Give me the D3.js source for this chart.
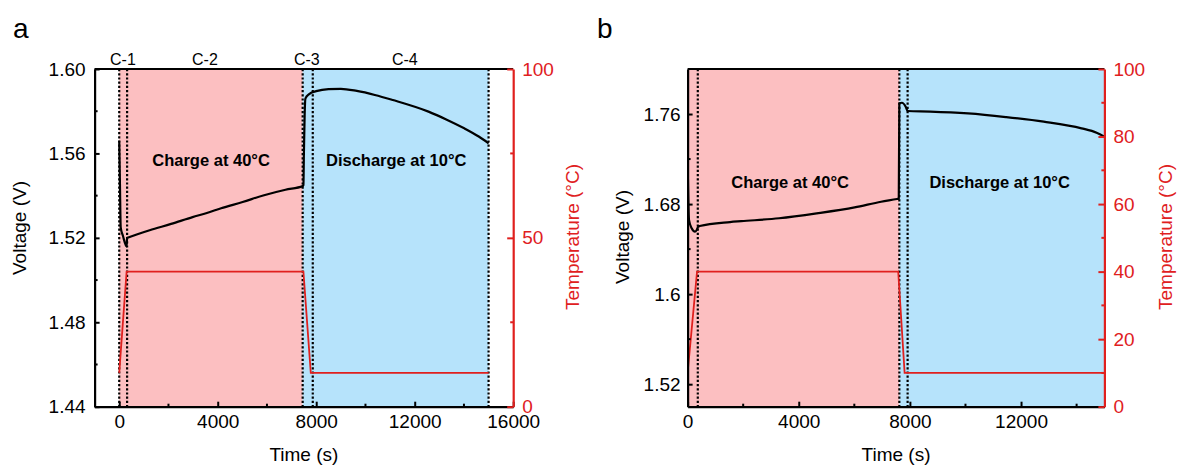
<!DOCTYPE html>
<html>
<head>
<meta charset="utf-8">
<script src="https://cdn.jsdelivr.net/npm/d3@7"></script>
<style>
  body { margin: 0; background: #fff; }
  svg { font-family: Arial, "Liberation Sans", sans-serif; }
</style>
</head>
<body>
<svg id="chart" width="1183" height="469"></svg>
<script>
// ---- panel a data ----
const timeA = [0, 30, 60, 150, 300, 320, 366, 1236, 2107, 2978, 3559, 4138, 5012, 5882, 6752, 7450, 7480, 7500, 7530, 7560, 7700, 8000, 8500, 9000, 9650, 10382, 11109, 12560, 13300, 14012, 14600, 15000];
const voltA = [1.566, 1.545, 1.525, 1.521, 1.516, 1.520, 1.5202, 1.5236, 1.5266, 1.5298, 1.5318, 1.5340, 1.5370, 1.5402, 1.5428, 1.5445, 1.5450, 1.560, 1.578, 1.586, 1.588, 1.5895, 1.5905, 1.5906, 1.5896, 1.5877, 1.5853, 1.5798, 1.5760, 1.5719, 1.5680, 1.5648];
const tempTimeA = [0, 300, 7480, 7780, 15000];
const tempA = [10, 40, 40, 10, 10];
const dividersA = [0, 320, 7450, 7860, 15000];
const phaseStartA = [0, 7450];
const phaseEndA = [7450, 15000];
const stepNames = ['C-1', 'C-2', 'C-3', 'C-4'];
const stepTimes = [150, 3480, 7620, 11600];

// ---- panel b data ----
const timeB = [0, 50, 147, 266, 327, 385, 436, 1525, 1932, 3293, 4651, 6011, 6964, 7536, 7600, 7620, 7712, 7849, 7918, 8734, 10094, 11453, 12816, 14176, 14719, 15000];
const voltB = [1.72, 1.666, 1.6585, 1.6555, 1.657, 1.660, 1.6605, 1.6640, 1.6648, 1.6674, 1.6718, 1.6771, 1.6821, 1.6845, 1.6848, 1.7695, 1.770, 1.7665, 1.7627, 1.7622, 1.7605, 1.7573, 1.7532, 1.7473, 1.7434, 1.7399];
const tempTimeB = [0, 340, 7580, 7810, 15000];
const tempB = [10, 40, 40, 10, 10];
const dividersB = [367, 7620, 7918];
const phaseStartB = [0, 7620];
const phaseEndB = [7620, 15000];

// ---- axis ticks ----
const xTicksA = [0, 4000, 8000, 12000, 16000];
const xMinorA = [2000, 6000, 10000, 14000];
const vTicksA = [1.44, 1.48, 1.52, 1.56, 1.60];
const vMinorA = [1.46, 1.50, 1.54, 1.58];
const tTicksA = [0, 50, 100];
const tMinorA = [25, 75];

const xTicksB = [0, 4000, 8000, 12000];
const xMinorB = [2000, 6000, 10000, 14000];
const vTicksB = [1.52, 1.6, 1.68, 1.76];
const vMinorB = [1.56, 1.64, 1.72];
const tTicksB = [0, 20, 40, 60, 80, 100];
const tMinorB = [10, 30, 50, 70, 90];

const RED = '#e0201e';
const PINK = '#fcbfc1';
const BLUE = '#b6e3fb';
const phaseColors = [PINK, BLUE];
const FONT = 'Arial, "Liberation Sans", sans-serif';

const svg = d3.select('#chart');

const drawPanel = cfg => {
    const x = d3.scaleLinear().domain(cfg.xDomain).range([cfg.left, cfg.right]);
    const yV = d3.scaleLinear().domain(cfg.vDomain).range([cfg.bottom, cfg.top]);
    const yT = d3.scaleLinear().domain([0, 100]).range([cfg.bottom, cfg.top]);

    const g = svg.append('g');
    const clipId = 'clip-' + cfg.id;
    svg.append('clipPath').attr('id', clipId)
        .append('rect')
        .attr('x', cfg.left).attr('y', cfg.top)
        .attr('width', cfg.right - cfg.left).attr('height', cfg.bottom - cfg.top);

    const plot = g.append('g').attr('clip-path', `url(#${clipId})`);

    // shaded phases
    plot.selectAll('rect.phase')
        .data(cfg.phaseStart.map((s, i) => ({ s, e: cfg.phaseEnd[i], i })))
        .join('rect')
        .attr('class', 'phase')
        .attr('x', d => x(d.s))
        .attr('y', cfg.top)
        .attr('width', d => x(d.e) - x(d.s))
        .attr('height', cfg.bottom - cfg.top)
        .attr('fill', d => phaseColors[d.i]);

    // dotted dividers
    plot.selectAll('line.div')
        .data(cfg.dividers)
        .join('line')
        .attr('x1', d => x(d)).attr('x2', d => x(d))
        .attr('y1', cfg.top).attr('y2', cfg.bottom)
        .attr('stroke', '#000')
        .attr('stroke-width', 2.2)
        .attr('stroke-dasharray', '2.2,2');

    // temperature line
    plot.append('path')
        .datum(cfg.tempTime.map((t, i) => [t, cfg.temp[i]]))
        .attr('fill', 'none')
        .attr('stroke', RED)
        .attr('stroke-width', 1.8)
        .attr('d', d3.line().x(d => x(d[0])).y(d => yT(d[1])));

    // voltage line
    plot.append('path')
        .datum(cfg.time.map((t, i) => [t, cfg.volt[i]]))
        .attr('fill', 'none')
        .attr('stroke', '#000')
        .attr('stroke-width', 2.2)
        .attr('stroke-linejoin', 'round')
        .attr('d', d3.line().curve(d3.curveMonotoneX).x(d => x(d[0])).y(d => yV(d[1])));

    // bottom axis
    const bx = g.append('g').attr('transform', `translate(0,${cfg.bottom})`)
        .call(d3.axisBottom(x).tickValues(cfg.xTicks).tickFormat(d3.format('d'))
            .tickSizeInner(-5).tickSizeOuter(0).tickPadding(8));
    bx.append('g').selectAll('line')
        .data(cfg.xMinor).join('line')
        .attr('x1', d => x(d)).attr('x2', d => x(d))
        .attr('y1', 0).attr('y2', -3)
        .attr('stroke', '#000').attr('stroke-width', 2);

    // left axis
    const lx = g.append('g').attr('transform', `translate(${cfg.left},0)`)
        .call(d3.axisLeft(yV).tickValues(cfg.vTicks).tickFormat(cfg.vFormat)
            .tickSizeInner(-5).tickSizeOuter(0).tickPadding(cfg.leftPad));
    lx.append('g').selectAll('line')
        .data(cfg.vMinor).join('line')
        .attr('y1', d => yV(d)).attr('y2', d => yV(d))
        .attr('x1', 0).attr('x2', 3)
        .attr('stroke', '#000').attr('stroke-width', 2);

    // top frame
    g.append('line')
        .attr('x1', cfg.left).attr('x2', cfg.right)
        .attr('y1', cfg.top).attr('y2', cfg.top)
        .attr('stroke', '#000').attr('stroke-width', 2);

    // right (temperature) axis
    const rx = g.append('g').attr('transform', `translate(${cfg.right},0)`)
        .call(d3.axisRight(yT).tickValues(cfg.tTicks)
            .tickSizeInner(-6).tickSizeOuter(0).tickPadding(9));
    rx.append('g').selectAll('line')
        .data(cfg.tMinor).join('line')
        .attr('y1', d => yT(d)).attr('y2', d => yT(d))
        .attr('x1', 0).attr('x2', -3)
        .attr('stroke', RED).attr('stroke-width', 2);

    [bx, lx].forEach(a => {
        a.select('.domain').attr('stroke', '#000').attr('stroke-width', 2.2);
        a.selectAll('.tick line').attr('stroke', '#000').attr('stroke-width', 2);
        a.selectAll('.tick text').attr('fill', '#000').style('font-size', '19px')
            .style('font-family', FONT);
    });
    rx.select('.domain').attr('stroke', RED).attr('stroke-width', 2.2);
    rx.selectAll('.tick line').attr('stroke', RED).attr('stroke-width', 2);
    rx.selectAll('.tick text').attr('fill', RED).style('font-size', '19px')
        .style('font-family', FONT);

    // axis titles
    g.append('text')
        .attr('x', (cfg.left + cfg.right) / 2).attr('y', 461)
        .attr('text-anchor', 'middle').style('font-size', '19px')
        .text('Time (s)');
    g.append('text')
        .attr('transform', `translate(${cfg.vLabelX},${cfg.vLabelY}) rotate(-90)`)
        .attr('text-anchor', 'middle').attr('dy', '0.35em').style('font-size', '19px')
        .text('Voltage (V)');
    g.append('text')
        .attr('transform', `translate(${cfg.tLabelX},237) rotate(-90)`)
        .attr('text-anchor', 'middle').attr('dy', '0.35em').style('font-size', '19px')
        .attr('fill', RED)
        .text('Temperature (°C)');

    // phase annotations
    g.append('text')
        .attr('x', x(cfg.chargeAt)).attr('y', cfg.noteY)
        .attr('text-anchor', 'middle').style('font-size', '16.5px').style('font-weight', 'bold')
        .text('Charge at 40°C');
    g.append('text')
        .attr('x', x(cfg.dischargeAt)).attr('y', cfg.noteY)
        .attr('text-anchor', 'middle').style('font-size', '16.5px').style('font-weight', 'bold')
        .text('Discharge at 10°C');

    // panel letter
    g.append('text')
        .attr('x', cfg.letterX).attr('y', 38)
        .style('font-size', '28px')
        .text(cfg.letter);

    return x;
};

const xA = drawPanel({
    id: 'a', letter: 'a', letterX: 13,
    left: 94.6, right: 513.2, top: 69, bottom: 406.7,
    xDomain: [-1000, 16000], vDomain: [1.44, 1.60],
    vFormat: d3.format('.2f'), leftPad: 9,
    xTicks: xTicksA, xMinor: xMinorA, vTicks: vTicksA, vMinor: vMinorA,
    tTicks: tTicksA, tMinor: tMinorA,
    time: timeA, volt: voltA, tempTime: tempTimeA, temp: tempA,
    dividers: dividersA, phaseStart: phaseStartA, phaseEnd: phaseEndA,
    vLabelX: 19, vLabelY: 228, tLabelX: 572,
    chargeAt: 3730, dischargeAt: 11250, noteY: 166
});

// step labels above panel a
svg.append('g').selectAll('text')
    .data(stepNames)
    .join('text')
    .attr('x', (d, i) => xA(stepTimes[i]))
    .attr('y', 65)
    .attr('text-anchor', 'middle')
    .style('font-size', '16px')
    .text(d => d);

drawPanel({
    id: 'b', letter: 'b', letterX: 597,
    left: 687.6, right: 1104.4, top: 69, bottom: 406.7,
    xDomain: [0, 15000], vDomain: [1.50, 1.80],
    vFormat: d => String(+d.toFixed(2)), leftPad: 7,
    xTicks: xTicksB, xMinor: xMinorB, vTicks: vTicksB, vMinor: vMinorB,
    tTicks: tTicksB, tMinor: tMinorB,
    time: timeB, volt: voltB, tempTime: tempTimeB, temp: tempB,
    dividers: dividersB, phaseStart: phaseStartB, phaseEnd: phaseEndB,
    vLabelX: 622, vLabelY: 237, tLabelX: 1165,
    chargeAt: 3690, dischargeAt: 11230, noteY: 188
});
</script>
</body>
</html>
